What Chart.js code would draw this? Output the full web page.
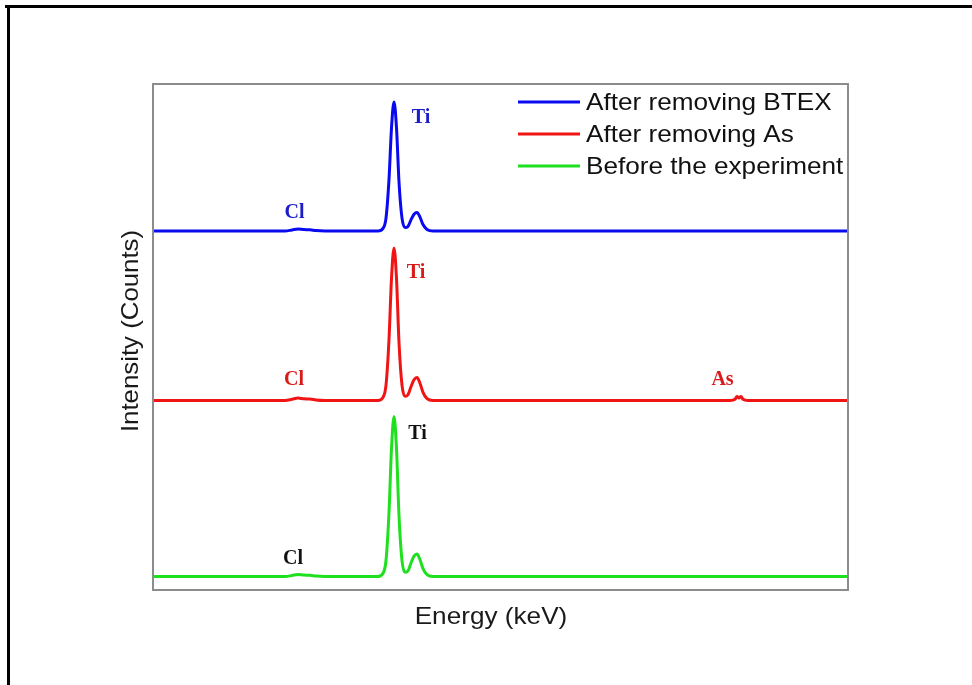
<!DOCTYPE html>
<html>
<head>
<meta charset="utf-8">
<script src="https://cdn.jsdelivr.net/npm/chart.js@4.4.1/dist/chart.umd.min.js"></script>
<style>
  html, body { margin: 0; padding: 0; background: #fff; }
  #wrap { width: 972px; height: 685px; position: relative; }
</style>
</head>
<body>
<div id="wrap"><canvas id="edsChart" width="972" height="685"></canvas></div>
<script>
// ===================================
// Spectrum data
// ===================================
const energyKeV = [
    0.00, 0.94, 1.94, 2.64, 2.78, 2.90, 3.02, 3.14, 3.26, 3.44,
    4.14, 4.50, 4.60, 4.66, 4.72, 4.77, 4.82, 4.87, 4.92, 4.98,
    5.04, 5.10, 5.16, 5.22, 5.28, 5.34, 5.40, 5.48, 5.60, 6.94,
    8.94, 10.94, 11.54, 11.64, 11.68, 11.72, 11.76, 11.80, 11.90, 12.94,
    13.90
];

const afterBTEX = [
    3590, 3590, 3590, 3590, 3600, 3610, 3604, 3602, 3594, 3590,
    3590, 3590, 3616, 3719, 4106, 4622, 4880, 4622, 4080, 3719,
    3625, 3636, 3701, 3757, 3775, 3729, 3655, 3605, 3590, 3590,
    3590, 3590, 3590, 3590, 3590, 3590, 3590, 3590, 3590, 3590,
    3590
];

const afterAs = [
    1895, 1895, 1895, 1895, 1907, 1920, 1912, 1910, 1900, 1895,
    1895, 1895, 1926, 2048, 2505, 3115, 3420, 3115, 2475, 2048,
    1937, 1953, 2033, 2102, 2125, 2068, 1976, 1913, 1895, 1895,
    1895, 1895, 1895, 1907, 1935, 1919, 1935, 1907, 1895, 1895,
    1895
];

const beforeExp = [
    135, 135, 135, 135, 145, 155, 149, 147, 139, 135,
    135, 135, 167, 295, 775, 1415, 1735, 1415, 743, 295,
    178, 191, 270, 338, 360, 304, 214, 153, 135, 135,
    135, 135, 135, 135, 135, 135, 135, 135, 135, 135,
    135
];

const seriesNames = ['After removing BTEX', 'After removing As', 'Before the experiment'];
const seriesColors = ['#0a0af0', '#f01414', '#1fe01f'];

// peak labels: text, energy, intensity, colour
const peakText = ['Ti', 'Cl', 'Ti', 'Cl', 'As', 'Ti', 'Cl'];
const peakEnergy = [5.36, 2.83, 5.26, 2.82, 11.39, 5.29, 2.80];
const peakLevel = [4720, 3770, 3175, 2100, 2100, 1560, 313];
const peakColors = ['#1c1cc8', '#1c1cc8', '#d81a1a', '#d81a1a', '#d81a1a', '#111111', '#111111'];

function toPoints(values) {
    return values.map((v, i) => ({ x: energyKeV[i], y: v }));
}

// text drawn a little wider than the font, like the original figure
function wideText(ctx, text, x, y, stretch) {
    ctx.save();
    ctx.translate(x, y);
    ctx.scale(stretch, 1);
    ctx.fillText(text, 0, 0);
    ctx.restore();
}

// ===================================
// Decorations: frame, box, titles, labels, legend
// ===================================
const decorPlugin = {
    id: 'decor',
    beforeDraw(chart) {
        const ctx = chart.ctx;
        ctx.save();
        ctx.fillStyle = '#fff';
        ctx.fillRect(0, 0, chart.width, chart.height);
        // outer black frame (top and left edges)
        ctx.fillStyle = '#000';
        ctx.fillRect(5, 5, chart.width - 5, 3);
        ctx.fillRect(7, 5, 3, chart.height - 5);
        ctx.restore();
    },
    afterDraw(chart) {
        const ctx = chart.ctx;
        const a = chart.chartArea;
        const xs = chart.scales.x, ys = chart.scales.y;
        ctx.save();

        // plot box
        ctx.strokeStyle = '#8c8c8c';
        ctx.lineWidth = 2;
        ctx.strokeRect(a.left, a.top, a.right - a.left, a.bottom - a.top);

        // axis titles
        ctx.fillStyle = '#1a1a1a';
        ctx.font = '24px "Liberation Sans", Arial, sans-serif';
        ctx.textAlign = 'center';
        ctx.textBaseline = 'middle';
        wideText(ctx, 'Energy (keV)', 491, 617, 1.09);
        ctx.save();
        ctx.translate(131, 331);
        ctx.rotate(-Math.PI / 2);
        wideText(ctx, 'Intensity (Counts)', 0, 0, 1.075);
        ctx.restore();

        // peak labels
        ctx.font = 'bold 20px "Liberation Serif", "Times New Roman", serif';
        peakText.forEach((t, i) => {
            ctx.fillStyle = peakColors[i];
            ctx.fillText(t, xs.getPixelForValue(peakEnergy[i]), ys.getPixelForValue(peakLevel[i]));
        });

        // legend
        ctx.font = '24px "Liberation Sans", Arial, sans-serif';
        ctx.textAlign = 'left';
        chart.data.datasets.forEach((ds, i) => {
            const y = 102 + i * 32;
            ctx.strokeStyle = ds.borderColor;
            ctx.lineWidth = 3;
            ctx.beginPath();
            ctx.moveTo(518, y);
            ctx.lineTo(580, y);
            ctx.stroke();
            ctx.fillStyle = '#111';
            wideText(ctx, ds.label, 586, y + 1, 1.09);
        });
        ctx.restore();
    }
};

new Chart(document.getElementById('edsChart'), {
    type: 'line',
    data: {
        datasets: [afterBTEX, afterAs, beforeExp].map((vals, i) => ({
            label: seriesNames[i],
            data: toPoints(vals),
            borderColor: seriesColors[i],
            borderWidth: 3,
            pointRadius: 0,
            fill: false,
            cubicInterpolationMode: 'monotone'
        }))
    },
    options: {
        responsive: false,
        animation: false,
        layout: { padding: { left: 153, right: 124, top: 84, bottom: 95 } },
        plugins: {
            legend: { display: false },
            tooltip: { enabled: false }
        },
        scales: {
            x: { type: 'linear', min: 0, max: 13.9, display: false },
            y: { type: 'linear', min: 0, max: 5060, display: false }
        }
    },
    plugins: [decorPlugin]
});
</script>
</body>
</html>
